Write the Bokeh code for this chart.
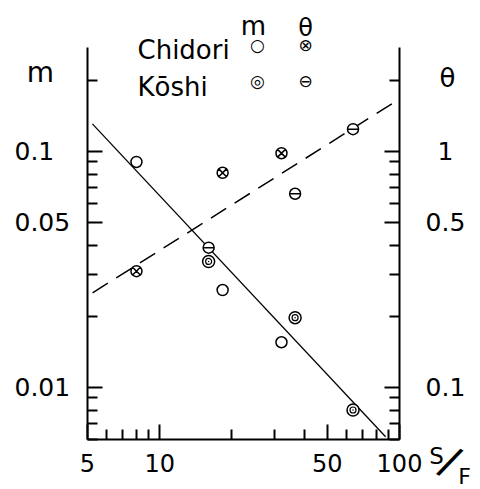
import math
from bokeh.plotting import figure
from bokeh.models import Range1d, LogScale, LogAxis, FixedTicker, Label, CustomJSTickFormatter
from bokeh.embed import file_html
from bokeh.resources import INLINE

# ---- data ----
chidori_sf = [8.0, 18.3, 32.2]
chidori_m = [0.090, 0.0258, 0.0155]
chidori_theta = [0.31, 0.81, 0.98]
koshi_sf = [16.0, 36.7, 64.0]
koshi_m = [0.0341, 0.0197, 0.0080]
koshi_theta = [0.39, 0.66, 1.24]
m_fit_sf = [5.24, 87.5]
m_fit = [0.1305, 0.00616]
theta_fit_sf = [5.25, 96.8]
theta_fit = [0.251, 1.63]

x_ticks = [5, 10, 50, 100]
x_tick_labels = ["5", "10", "50", "100"]
x_minor = [6, 7, 8, 9, 20, 30, 40, 60, 70, 80, 90]
m_ticks = [0.01, 0.05, 0.1]
m_tick_labels = ["0.01", "0.05", "0.1"]
m_minor = [0.006, 0.007, 0.008, 0.009, 0.02, 0.03, 0.04, 0.06, 0.07, 0.08, 0.09, 0.2]
theta_ticks = [0.1, 0.5, 1]
theta_tick_labels = ["0.1", "0.5", "1"]
theta_minor = [0.06, 0.07, 0.08, 0.09, 0.2, 0.3, 0.4, 0.6, 0.7, 0.8, 0.9, 2]

x_bounds = (5, 100)
m_bounds = (0.006, 0.275)
theta_bounds = (0.06, 2.75)

FONT = "DejaVu Sans"
W, H = 480, 489
# pixel position of the axes box inside the canvas
BL, BR, BT, BB = 87, 399, 47, 439


def log_extend(lo, hi, pad_lo, pad_hi, span_px):
    a, b = math.log10(lo), math.log10(hi)
    k = (b - a) / span_px
    return Range1d(10 ** (a - pad_lo * k), 10 ** (b + pad_hi * k))


p = figure(width=W, height=H, x_axis_type="log", y_axis_type="log",
           x_range=log_extend(*x_bounds, BL, W - BR, BR - BL),
           y_range=log_extend(*m_bounds, H - BB, BT, BB - BT),
           output_backend="svg", toolbar_location=None,
           min_border=0, min_border_left=0, min_border_right=0,
           min_border_top=0, min_border_bottom=0)
p.extra_y_ranges = {"theta": log_extend(*theta_bounds, H - BB, BT, BB - BT)}
p.extra_y_scales = {"theta": LogScale()}
p.outline_line_color = None
p.xgrid.visible = False
p.ygrid.visible = False
p.background_fill_color = "white"
p.border_fill_color = "white"

empty = CustomJSTickFormatter(code="return ''")


def style(ax, ticks, minor, bounds, loc):
    ax.ticker = FixedTicker(ticks=ticks, minor_ticks=minor)
    ax.bounds = bounds
    ax.fixed_location = loc
    ax.axis_line_width = 2
    ax.axis_line_color = "black"
    ax.major_tick_in = 15
    ax.major_tick_out = 0
    ax.minor_tick_in = 10
    ax.minor_tick_out = 0
    ax.major_tick_line_width = 2
    ax.minor_tick_line_width = 2
    ax.major_tick_line_color = "black"
    ax.minor_tick_line_color = "black"


xa = p.xaxis[0]
style(xa, x_ticks, x_minor, x_bounds, m_bounds[0])
xa.major_label_overrides = {t: s for t, s in zip(x_ticks, x_tick_labels)}
xa.major_label_text_font = FONT
xa.major_label_text_font_size = "24px"
xa.major_label_text_color = "black"
xa.major_label_standoff = 14

ya = p.yaxis[0]
style(ya, m_ticks, m_minor, m_bounds, x_bounds[0])
ya.formatter = empty
ya.major_label_standoff = 0

ra = LogAxis(y_range_name="theta")
style(ra, theta_ticks, theta_minor, theta_bounds, x_bounds[1])
ra.formatter = empty
ra.major_label_standoff = 0
p.add_layout(ra, "right")

# fitted lines
p.line(m_fit_sf, m_fit, line_color="black", line_width=1.3)
p.line(theta_fit_sf, theta_fit, y_range_name="theta", line_color="black",
       line_width=1.5, line_dash="18 10")

# Chidori m: open circle
p.scatter(chidori_sf, chidori_m, marker="circle", size=11, fill_color="white",
          line_color="black", line_width=1.5)
# Chidori theta: circle with x
p.scatter(chidori_sf, chidori_theta, y_range_name="theta", marker="circle_x", size=11,
          fill_color="white", line_color="black", line_width=1.5)
# Koshi m: double circle
p.scatter(koshi_sf, koshi_m, marker="circle", size=12, fill_color="white",
          line_color="black", line_width=1.5)
p.scatter(koshi_sf, koshi_m, marker="circle_dot", size=6, fill_color="white",
          line_color="black", line_width=1.2)
# Koshi theta: circle with horizontal bar
p.scatter(koshi_sf, koshi_theta, y_range_name="theta", marker="circle", size=11,
          fill_color="white", line_color="black", line_width=1.5)
p.scatter(koshi_sf, koshi_theta, y_range_name="theta", marker="dash", size=11,
          line_color="black", line_width=1.5)

# tick labels of the left (m) and right (theta) axes
for t, s in zip(m_ticks, m_tick_labels):
    p.add_layout(Label(x=14, x_units="screen", y=t, text=s, text_font=FONT,
                       text_color="black", text_font_size="25px",
                       text_align="left", text_baseline="middle"))
for t, s in zip(theta_ticks, theta_tick_labels):
    p.add_layout(Label(x=445, x_units="screen", y=t, y_range_name="theta", text=s,
                       text_font=FONT, text_color="black", text_font_size="25px",
                       text_align="center", text_baseline="middle"))


def lab(x, y, text, size, align="center", baseline="alphabetic", angle=0, font=FONT):
    # x, y given as pixels from the top-left corner of the canvas
    p.add_layout(Label(x=x, y=H - y, x_units="screen", y_units="screen", text=text,
                       text_font=font, text_color="black", text_font_size=size,
                       text_align=align, text_baseline=baseline, angle=angle))


# axis titles
lab(40, 72, "m", "28px")
lab(447, 77, "θ", "26px")
lab(436, 455, "S", "23px")
lab(449, 462, "/", "46px", baseline="middle", angle=-0.5, font="Liberation Sans")
lab(464, 476, "F", "22px")

# legend
lab(253, 25, "m", "26px")
lab(305, 27, "θ", "24px")
lab(137, 49, "Chidori", "26px", "left")
lab(137, 86, "Kōshi", "26px", "left")
lab(257, 44, "○", "17px", baseline="middle")
lab(305, 44, "⊗", "17px", baseline="middle")
lab(257, 80, "◎", "17px", baseline="middle")
lab(305, 80, "⊖", "17px", baseline="middle")

open("out.html", "w").write(file_html(p, INLINE))
